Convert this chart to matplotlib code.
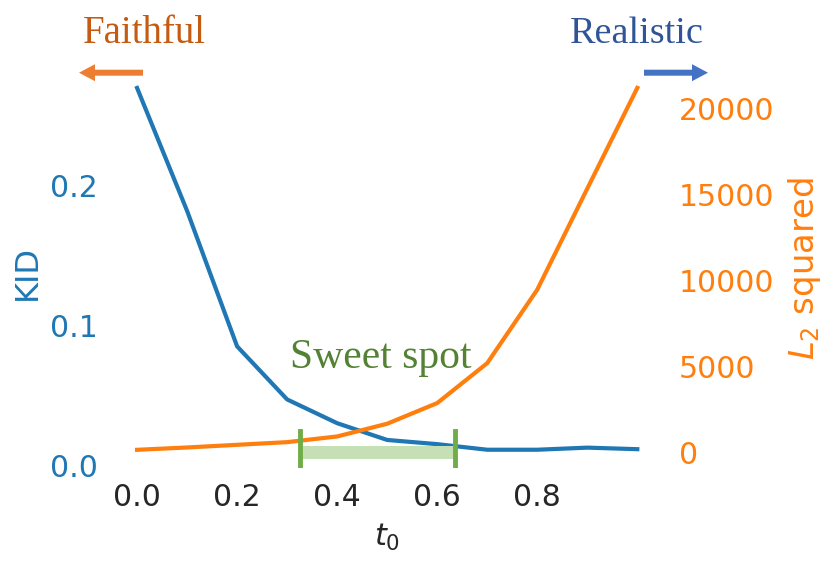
import numpy as np
import matplotlib.pyplot as plt
from matplotlib.patches import FancyArrow

# t0 sampled every 0.1
t0 = [0.0, 0.1, 0.2, 0.3, 0.4, 0.5, 0.6, 0.7, 0.8, 0.9, 1.0]
kid = [0.270, 0.182, 0.085, 0.047, 0.030, 0.018, 0.015, 0.011, 0.011, 0.0125, 0.0114]
l2_sq = [175, 310, 465, 620, 950, 1690, 2890, 5210, 9480, 15350, 21200]

sweet_spot = [0.325, 0.635]

xticks = [0.0, 0.2, 0.4, 0.6, 0.8]
kid_ticks = [0.0, 0.1, 0.2]
l2_ticks = [0, 5000, 10000, 15000, 20000]

c_kid = '#1f77b4'
c_l2 = '#ff7f0e'
c_text = '#262626'

fig = plt.figure(figsize=(8.3, 5.72), dpi=100)
ax1 = fig.add_axes([0.135, 0.182, 0.663, 0.696])
ax2 = ax1.twinx()

ax1.plot(t0, kid, color=c_kid, linewidth=3)
ax2.plot(t0, l2_sq, color=c_l2, linewidth=3)

# sweet spot marker (drawn on the top axes)
ax2.fill_between(sweet_spot, [-350, -350], [370, 370], color='#c5e0b4', linewidth=0, zorder=3)
for x in sweet_spot:
    ax2.plot([x, x], [-760, 1240], color='#70ad47', linewidth=3.5, zorder=4)
ax2.set_ylim(-876, 22250)
ax1.set_ylim(-0.002, 0.283)

for ax in (ax1, ax2):
    for s in ax.spines.values():
        s.set_visible(False)

ax1.set_xticks(xticks)
ax1.set_xticklabels([f'{v:.1f}' for v in xticks])
ax1.set_yticks(kid_ticks)
ax1.set_yticklabels([f'{v:.1f}' for v in kid_ticks])
ax2.set_yticks(l2_ticks)
ax2.set_yticklabels([str(v) for v in l2_ticks])

ax1.tick_params(axis='x', length=0, pad=11, labelsize=21.5, labelcolor=c_text)
ax1.tick_params(axis='y', length=0, pad=10, labelsize=21.5, labelcolor=c_kid)
ax2.tick_params(axis='y', length=0, pad=12, labelsize=21.5, labelcolor=c_l2)

ax1.set_xlabel('$t_0$', fontsize=22, color=c_text)
ax1.xaxis.set_label_coords(0.5, -0.135)
ax1.set_ylabel('KID', fontsize=23, color=c_kid)
ax1.yaxis.set_label_coords(-0.125, 0.49)
ax2.set_ylabel('$L_2$ squared', fontsize=24.5, color=c_l2)
ax2.yaxis.set_label_coords(1.225, 0.5)

serif = 'Liberation Serif'
fig.text(83 / 830, 1 - 43 / 572, 'Faithful', family=serif, fontsize=28,
         color='#c55a11', ha='left', va='baseline')
fig.text(704 / 830, 1 - 43 / 572, 'Realistic', family=serif, fontsize=27.5,
         color='#2f5597', ha='right', va='baseline')
fig.text(290 / 830, 1 - 368 / 572, 'Sweet spot', family=serif, fontsize=30,
         color='#548235', ha='left', va='baseline')

# direction arrows, in inches (pixels / 100)
y_arr = (572 - 72.7) / 100
fig.add_artist(FancyArrow(1.43, y_arr, -0.64, 0, width=0.06, head_width=0.17,
                          head_length=0.16, length_includes_head=True,
                          color='#ed7d31', linewidth=0, transform=fig.dpi_scale_trans))
fig.add_artist(FancyArrow(6.44, y_arr, 0.64, 0, width=0.06, head_width=0.17,
                          head_length=0.16, length_includes_head=True,
                          color='#4472c4', linewidth=0, transform=fig.dpi_scale_trans))

fig.savefig('out.png', dpi=100)
